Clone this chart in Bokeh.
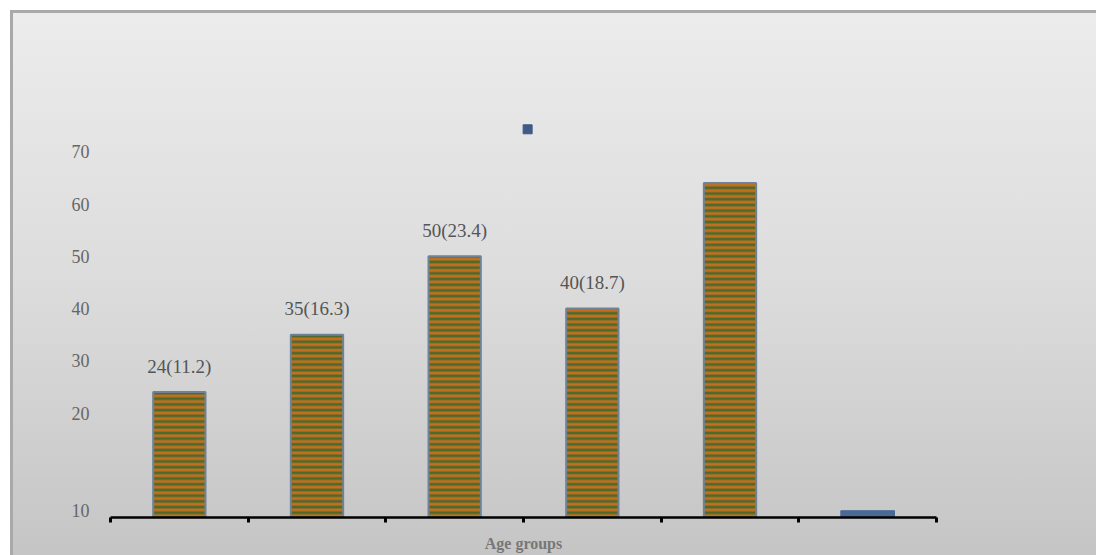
from bokeh.plotting import figure
from bokeh.models import FixedTicker, ColumnDataSource
from bokeh.core.properties import value
from bokeh.embed import file_html
from bokeh.resources import INLINE

# ---- data ----
positions = [0.5, 1.5, 2.5, 3.5, 4.5]
counts = [24, 35, 50, 40, 64]
labels = ["24(11.2)", "35(16.3)", "50(23.4)", "40(18.7)", ""]
extra_pos = [5.5]
extra_val = [1.3]
point_x = [3.03]
point_y = [74.3]
y_ticks = [1.4, 20, 30, 40, 50, 60, 70]
y_tick_labels = ["10", "20", "30", "40", "50", "60", "70"]
x_ticks = [0, 1, 2, 3, 4, 5, 6]
x_title = "Age groups"

FONT = "Liberation Serif"

p = figure(width=1086, height=545, x_range=(0, 6), y_range=(0, 80),
           output_backend="svg", toolbar_location=None,
           min_border_left=97, min_border_right=163,
           min_border_top=86, min_border_bottom=41)
p.margin = (10, 0, 0, 10)
p.styles = {
    "background": "linear-gradient(to bottom, #ececec 0%, #dcdcdc 50%, #c5c5c5 100%)",
    "border-left": "3px solid #a9a9a9",
    "border-top": "3px solid #a9a9a9",
}
p.background_fill_alpha = 0
p.border_fill_alpha = 0
p.outline_line_alpha = 0
p.grid.visible = False

src = ColumnDataSource(dict(x=positions, top=counts, label=labels))
p.vbar(x="x", top="top", bottom=0, width=0.38, source=src,
       fill_color="#c2701f", line_color="#6f8398", line_width=2,
       hatch_pattern="horizontal_line", hatch_color="#4d6a2c",
       hatch_scale=5.7, hatch_weight=2.8)
p.vbar(x=extra_pos, top=extra_val, bottom=0, width=0.39,
       fill_color="#4a6a96", line_color="#4a6a96")
p.scatter(x=point_x, y=point_y, marker="square", size=9,
          fill_color="#3f5a86", line_color="#3f5a86")
p.text(x="x", y="top", text="label", source=src, text_align="center",
       text_baseline="middle", y_offset=-26, text_font=value(FONT),
       text_font_size="19px", text_color="#555555")

# y axis: labels only
ya = p.yaxis[0]
ya.ticker = FixedTicker(ticks=y_ticks)
ya.major_label_overrides = {t: l for t, l in zip(y_ticks, y_tick_labels)}
ya.axis_line_alpha = 0
ya.major_tick_line_alpha = 0
ya.minor_tick_line_alpha = 0
ya.major_label_standoff = 15
ya.major_label_text_font = FONT
ya.major_label_text_font_size = "18px"
ya.major_label_text_color = "#666666"

# x axis
xa = p.xaxis[0]
xa.ticker = FixedTicker(ticks=x_ticks)
xa.major_label_overrides = {t: "" for t in x_ticks}
xa.major_label_text_font_size = "1px"
xa.axis_line_color = "black"
xa.axis_line_width = 2.5
xa.major_tick_line_color = "black"
xa.major_tick_line_width = 3
xa.major_tick_out = 5
xa.major_tick_in = 0
xa.minor_tick_line_alpha = 0
xa.axis_label = x_title
xa.axis_label_text_font = FONT
xa.axis_label_text_font_style = "bold"
xa.axis_label_text_font_size = "16px"
xa.axis_label_text_color = "#777777"
xa.axis_label_standoff = 12

open("out.html", "w").write(file_html(p, INLINE))
